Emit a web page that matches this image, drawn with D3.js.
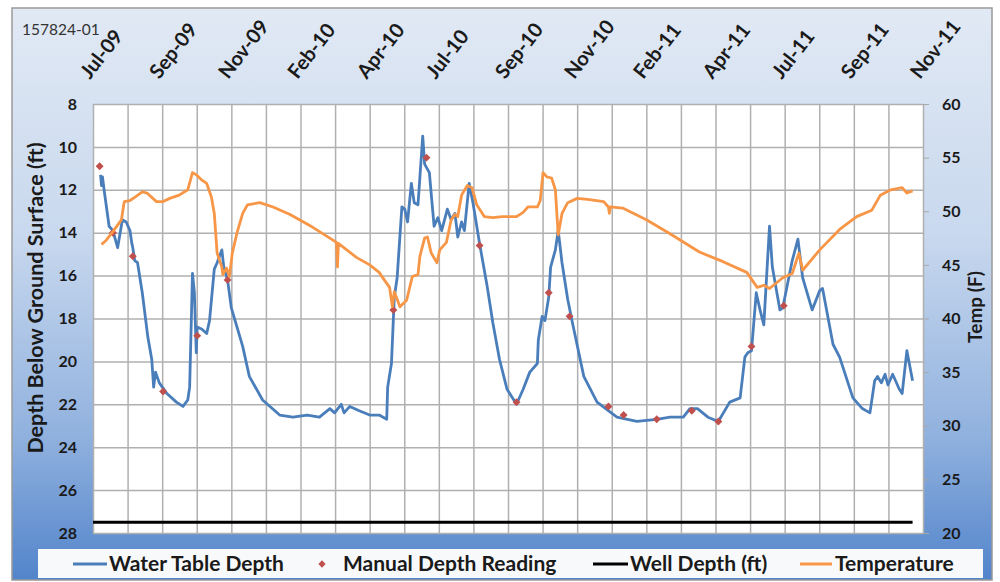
<!DOCTYPE html>
<html>
<head>
<meta charset="utf-8">
<script src="https://d3js.org/d3.v7.min.js"></script>
<style>
  body { margin: 0; background: #fff; }
  svg { display: block; font-family: Lato, "Open Sans", sans-serif; }
</style>
</head>
<body>
<svg></svg>
<script>
// water table depth (ft below ground surface)
var waterDates = ["2009-07-09","2009-07-10","2009-07-11","2009-07-13","2009-07-18","2009-07-22","2009-07-27","2009-08-01","2009-08-05","2009-08-09","2009-08-11","2009-08-12","2009-08-14","2009-08-17","2009-08-22","2009-08-28","2009-09-01","2009-09-03","2009-09-05","2009-09-09","2009-09-17","2009-09-27","2009-10-04","2009-10-09","2009-10-11","2009-10-14","2009-10-16","2009-10-18","2009-10-19","2009-10-24","2009-10-29","2009-11-01","2009-11-06","2009-11-09","2009-11-14","2009-11-16","2009-11-20","2009-11-24","2009-11-30","2009-12-06","2009-12-13","2009-12-27","2010-01-14","2010-01-28","2010-02-12","2010-02-25","2010-03-08","2010-03-13","2010-03-20","2010-03-23","2010-03-29","2010-04-08","2010-04-19","2010-04-29","2010-05-07","2010-05-08","2010-05-12","2010-05-15","2010-05-18","2010-05-23","2010-05-26","2010-05-29","2010-06-02","2010-06-05","2010-06-09","2010-06-14","2010-06-16","2010-06-21","2010-06-26","2010-06-30","2010-07-04","2010-07-10","2010-07-14","2010-07-18","2010-07-21","2010-07-25","2010-07-28","2010-08-02","2010-08-06","2010-08-13","2010-08-21","2010-08-27","2010-09-03","2010-09-11","2010-09-21","2010-09-28","2010-10-05","2010-10-13","2010-10-14","2010-10-18","2010-10-21","2010-10-25","2010-10-27","2010-11-01","2010-11-04","2010-11-08","2010-11-14","2010-11-19","2010-12-01","2010-12-15","2011-01-05","2011-01-26","2011-02-16","2011-03-02","2011-03-16","2011-03-23","2011-03-31","2011-04-11","2011-04-22","2011-05-04","2011-05-15","2011-05-20","2011-05-23","2011-05-27","2011-06-01","2011-06-05","2011-06-09","2011-06-15","2011-06-18","2011-06-26","2011-06-29","2011-07-09","2011-07-15","2011-07-20","2011-07-30","2011-08-07","2011-08-10","2011-08-21","2011-08-28","2011-09-11","2011-09-21","2011-09-29","2011-10-04","2011-10-07","2011-10-11","2011-10-15","2011-10-18","2011-10-23","2011-10-30","2011-11-02","2011-11-07","2011-11-13"];
var waterDepth = [11.3,11.8,11.4,12.1,13.7,13.9,14.7,13.4,13.5,13.9,14.5,14.7,15.3,15.4,16.8,18.9,19.9,21.2,20.5,21.0,21.5,21.9,22.1,21.8,21.2,15.9,16.8,19.6,18.4,18.5,18.7,18.1,15.7,15.4,14.8,15.6,16.2,17.5,18.4,19.3,20.7,21.8,22.5,22.6,22.5,22.6,22.2,22.4,22.0,22.4,22.1,22.3,22.5,22.5,22.7,21.2,20.1,17.0,16.1,12.8,12.9,13.5,11.7,12.6,12.7,9.5,10.8,11.2,13.7,13.3,13.9,12.9,13.4,13.1,14.2,13.5,13.9,11.7,12.6,14.5,16.5,18.2,19.9,21.3,22.0,21.3,20.5,20.1,19.0,17.9,18.1,17.0,15.6,14.8,13.9,15.4,17.1,18.2,20.7,21.9,22.6,22.8,22.7,22.6,22.6,22.2,22.2,22.6,22.8,21.9,21.7,19.8,19.6,19.5,16.8,17.6,18.3,13.7,15.6,17.6,17.5,15.3,14.3,16.1,17.6,16.7,16.6,19.2,19.8,21.7,22.2,22.4,20.9,20.7,21.0,20.6,21.1,20.6,21.3,21.5,19.5,20.9];

// manual depth readings
var manualDates = ["2009-07-08","2009-07-22","2009-08-12","2009-09-13","2009-10-19","2009-11-20","2010-05-14","2010-06-18","2010-08-13","2010-09-21","2010-10-25","2010-11-16","2010-12-27","2011-01-12","2011-02-16","2011-03-25","2011-04-22","2011-05-27","2011-06-30"];
var manualDepth = [10.9,14.0,15.1,21.4,18.8,16.2,17.6,10.5,14.6,21.9,16.8,17.9,22.1,22.5,22.7,22.3,22.8,19.3,17.4];

// well depth
var wellDates = ["2009-07-01","2011-11-13"];
var wellDepth = [27.5,27.5];

// temperature (F)
var tempDates = ["2009-07-10","2009-07-15","2009-07-22","2009-07-31","2009-08-03","2009-08-09","2009-08-14","2009-08-22","2009-08-27","2009-09-06","2009-09-13","2009-09-20","2009-09-30","2009-10-09","2009-10-14","2009-10-18","2009-10-24","2009-10-29","2009-11-03","2009-11-06","2009-11-09","2009-11-14","2009-11-15","2009-11-19","2009-11-22","2009-11-25","2009-11-30","2009-12-06","2009-12-11","2009-12-24","2010-01-07","2010-01-25","2010-02-18","2010-03-15","2010-03-16","2010-03-17","2010-04-05","2010-04-19","2010-04-29","2010-05-02","2010-05-10","2010-05-13","2010-05-15","2010-05-21","2010-05-28","2010-06-03","2010-06-09","2010-06-11","2010-06-16","2010-06-19","2010-06-23","2010-06-29","2010-07-02","2010-07-09","2010-07-14","2010-07-18","2010-07-21","2010-07-25","2010-07-31","2010-08-05","2010-08-10","2010-08-18","2010-08-27","2010-09-06","2010-09-21","2010-09-28","2010-10-03","2010-10-13","2010-10-16","2010-10-19","2010-10-23","2010-10-28","2010-11-01","2010-11-04","2010-11-08","2010-11-14","2010-11-24","2010-12-05","2010-12-22","2010-12-27","2010-12-28","2010-12-29","2011-01-11","2011-02-05","2011-03-02","2011-04-02","2011-04-27","2011-05-22","2011-06-02","2011-06-09","2011-06-15","2011-06-29","2011-07-09","2011-07-16","2011-07-20","2011-08-07","2011-08-28","2011-09-15","2011-10-01","2011-10-10","2011-10-21","2011-11-02","2011-11-07","2011-11-13"];
var tempValue = [46.9,47.3,48.1,49.2,50.9,51.0,51.3,51.8,51.7,50.9,50.9,51.2,51.5,52.0,53.6,53.4,52.9,52.6,51.3,49.8,46.1,44.8,44.1,44.7,43.9,46.1,48.0,49.8,50.6,50.8,50.4,49.7,48.5,47.1,44.8,47.0,45.7,45.0,44.3,43.9,42.9,41.1,42.5,41.1,41.7,43.9,44.1,45.8,47.5,47.6,46.1,45.2,46.4,47.1,49.2,49.7,49.5,51.5,52.4,52.2,50.6,49.5,49.4,49.5,49.5,49.9,50.4,50.4,51.0,53.6,53.2,53.1,52.0,47.8,49.8,50.8,51.2,51.1,50.9,50.4,49.8,50.4,50.3,49.2,47.9,46.2,45.3,44.3,42.9,43.1,42.8,43.8,44.2,46.1,44.5,46.4,48.3,49.5,50.1,51.5,52.0,52.2,51.7,51.9];

var xLabels = ["Jul-09","Sep-09","Nov-09","Feb-10","Apr-10","Jul-10","Sep-10","Nov-10","Feb-11","Apr-11","Jul-11","Sep-11","Nov-11"];
var depthTicks = [8,10,12,14,16,18,20,22,24,26,28];
var tempTicks = [20,25,30,35,40,45,50,55,60];

var viewWidth = 1000;
var viewHeight = 582;
var plot = {left: 93, top: 104, right: 923, bottom: 533};

var parse = d3.utcParse("%Y-%m-%d");
var startDate = parse("2009-07-01");
var dayMs = 864e5;
var endDate = new Date(startDate.getTime() + 876 * dayMs);

var svg = d3.select("svg")
    .attr("width", viewWidth)
    .attr("height", viewHeight);

var defs = svg.append("defs");
var grad = defs.append("linearGradient")
    .attr("id", "bg")
    .attr("x1", 0).attr("y1", 0).attr("x2", 0).attr("y2", 1);
grad.append("stop").attr("offset", "0%").attr("stop-color", "#e1e9f4");
grad.append("stop").attr("offset", "40%").attr("stop-color", "#c8d8ee");
grad.append("stop").attr("offset", "75%").attr("stop-color", "#90b1de");
grad.append("stop").attr("offset", "100%").attr("stop-color", "#5284cb");

svg.append("rect")
    .attr("x", 12).attr("y", 8)
    .attr("width", 980).attr("height", 572)
    .attr("fill", "url(#bg)")
    .attr("stroke", "#9a9a9a")
    .attr("stroke-width", 1.5);

var x = d3.scaleUtc()
    .domain([startDate, endDate])
    .range([plot.left, plot.right]);

var yDepth = d3.scaleLinear()
    .domain([8, 28])
    .range([plot.top, plot.bottom]);

var yTemp = d3.scaleLinear()
    .domain([20, 60])
    .range([plot.bottom, plot.top]);

svg.append("rect")
    .attr("x", plot.left).attr("y", plot.top)
    .attr("width", plot.right - plot.left)
    .attr("height", plot.bottom - plot.top)
    .attr("fill", "#fff");

// gridlines: one every 36.5 days, label every second one
var gridDates = d3.range(0, 25).map(function(i) { return new Date(startDate.getTime() + i * 36.5 * dayMs); });

var vGrid = svg.append("g")
    .attr("transform", "translate(0," + plot.top + ")")
    .call(d3.axisTop(x).tickValues(gridDates).tickSize(-(plot.bottom - plot.top)).tickFormat(""));
vGrid.select(".domain").remove();
vGrid.selectAll(".tick line")
    .attr("stroke", "#b0b0b0")
    .attr("stroke-width", 1.5);

var hGrid = svg.append("g")
    .attr("transform", "translate(" + plot.left + ",0)")
    .call(d3.axisLeft(yDepth).tickValues(depthTicks).tickSize(-(plot.right - plot.left)).tickFormat(""));
hGrid.select(".domain").remove();
hGrid.selectAll(".tick line")
    .attr("stroke", "#b0b0b0")
    .attr("stroke-width", 1.5);

// top date labels
svg.append("g")
    .selectAll("text")
    .data(xLabels)
    .join("text")
    .attr("transform", function(d, i) { return "translate(" + (x(gridDates[i * 2]) - 3) + ",80) rotate(-52)"; })
    .attr("font-size", 20)
    .attr("font-weight", 700)
    .attr("fill", "#1a1a1a")
    .text(function(d) { return d; });

// left axis
var leftAxis = svg.append("g")
    .attr("transform", "translate(" + plot.left + ",0)")
    .call(d3.axisLeft(yDepth).tickValues(depthTicks).tickSize(0).tickPadding(16));
leftAxis.select(".domain").remove();
leftAxis.selectAll("text")
    .attr("font-family", "Lato, sans-serif")
    .attr("font-size", 16)
    .attr("font-weight", 700)
    .attr("fill", "#1a1a1a");

// right axis
var rightAxis = svg.append("g")
    .attr("transform", "translate(" + plot.right + ",0)")
    .call(d3.axisRight(yTemp).tickValues(tempTicks).tickSize(6).tickPadding(13));
rightAxis.select(".domain").attr("stroke", "#b0b0b0");
rightAxis.selectAll(".tick line").attr("stroke", "#a8a8a8");
rightAxis.selectAll("text")
    .attr("font-family", "Lato, sans-serif")
    .attr("font-size", 16)
    .attr("font-weight", 700)
    .attr("fill", "#1a1a1a");

svg.append("text")
    .attr("transform", "translate(43,298) rotate(-90)")
    .attr("text-anchor", "middle")
    .attr("font-size", 21.5)
    .attr("font-weight", 700)
    .attr("fill", "#1a1a1a")
    .text("Depth Below Ground Surface (ft)");

svg.append("text")
    .attr("transform", "translate(982,307) rotate(-90)")
    .attr("text-anchor", "middle")
    .attr("font-size", 19)
    .attr("font-weight", 700)
    .attr("fill", "#1a1a1a")
    .text("Temp (F)");

svg.append("text")
    .attr("x", 22).attr("y", 35)
    .attr("font-size", 15.5)
    .attr("fill", "#333")
    .text("157824-01");

// series
var water = waterDates.map(function(d, i) { return {date: parse(d), v: waterDepth[i]}; });
var manual = manualDates.map(function(d, i) { return {date: parse(d), v: manualDepth[i]}; });
var well = wellDates.map(function(d, i) { return {date: parse(d), v: wellDepth[i]}; });
var temp = tempDates.map(function(d, i) { return {date: parse(d), v: tempValue[i]}; });

svg.append("path")
    .datum(well)
    .attr("fill", "none")
    .attr("stroke", "#000")
    .attr("stroke-width", 3)
    .attr("d", d3.line()
        .x(function(d) { return x(d.date) })
        .y(function(d) { return yDepth(d.v) })
        );

svg.append("path")
    .datum(water)
    .attr("fill", "none")
    .attr("stroke", "#4a7ebb")
    .attr("stroke-width", 2.8)
    .attr("stroke-linejoin", "round")
    .attr("d", d3.line()
        .x(function(d) { return x(d.date) })
        .y(function(d) { return yDepth(d.v) })
        );

svg.append("g")
    .selectAll("path")
    .data(manual)
    .join("path")
    .attr("transform", function(d) { return "translate(" + x(d.date) + "," + yDepth(d.v) + ")"; })
    .attr("d", d3.symbol(d3.symbolDiamond2, 40))
    .attr("fill", "#c0504d");

svg.append("path")
    .datum(temp)
    .attr("fill", "none")
    .attr("stroke", "#f79646")
    .attr("stroke-width", 2.8)
    .attr("stroke-linejoin", "round")
    .attr("d", d3.line()
        .x(function(d) { return x(d.date) })
        .y(function(d) { return yTemp(d.v) })
        );

// legend
svg.append("rect")
    .attr("x", 38).attr("y", 549)
    .attr("width", 945).attr("height", 29)
    .attr("fill", "#f8f9fb");

var legendItems = [
    {name: "Water Table Depth", type: "line", color: "#4a7ebb", x0: 73, x1: 107, tx: 109},
    {name: "Manual Depth Reading", type: "dot", color: "#c0504d", x0: 322, x1: 322, tx: 343},
    {name: "Well Depth (ft)", type: "line", color: "#000", x0: 593, x1: 628, tx: 630},
    {name: "Temperature", type: "line", color: "#f79646", x0: 800, x1: 832, tx: 835}
];

legendItems.forEach(function(item) {
    if (item.type == "line") {
        svg.append("line")
            .attr("x1", item.x0).attr("x2", item.x1)
            .attr("y1", 564).attr("y2", 564)
            .attr("stroke", item.color)
            .attr("stroke-width", 3);
    } else {
        svg.append("path")
            .attr("transform", "translate(" + item.x0 + ",564)")
            .attr("d", d3.symbol(d3.symbolDiamond2, 34))
            .attr("fill", item.color);
    }
    svg.append("text")
        .attr("x", item.tx).attr("y", 571)
        .attr("font-size", 21)
        .attr("font-weight", 700)
        .attr("fill", "#1a1a1a")
        .text(item.name);
});
</script>
</body>
</html>
